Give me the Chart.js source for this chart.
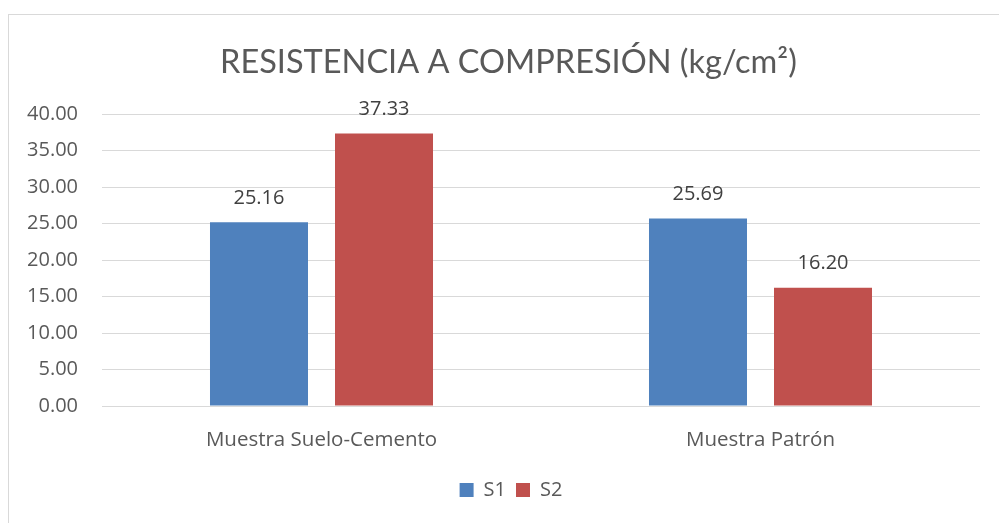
<!DOCTYPE html>
<html>
<head>
<meta charset="utf-8">
<script src="https://cdn.jsdelivr.net/npm/chart.js@4.4.0/dist/chart.umd.min.js"></script>
<style>
html,body{margin:0;padding:0;background:#fff;}
#wrap{position:relative;width:999px;height:523px;overflow:hidden;}
#frame{position:absolute;left:8px;top:14px;width:1100px;height:600px;border:1px solid #d9d9d9;box-sizing:border-box;}
canvas{position:absolute;left:0;top:0;}
</style>
</head>
<body>
<div id="wrap">
<div id="frame"></div>
<canvas id="c" width="999" height="523"></canvas>
</div>
<script>
const categories = ["Muestra Suelo-Cemento", "Muestra Patrón"];
const seriesS1 = [25.16, 25.69];
const seriesS2 = [37.33, 16.20];
const yTicks = [0, 5, 10, 15, 20, 25, 30, 35, 40];
const FONT = "'Open Sans', sans-serif";
const TITLE_FONT = "Lato, 'Open Sans', sans-serif";

const labelPlugin = {
  id: 'barLabels',
  afterLayout(chart) {
    // center title and legend on the chart frame rather than the canvas
    chart.titleBlock.left = 37;
    chart.legend.left = 42;
  },
  afterDatasetsDraw(chart) {
    const ctx = chart.ctx;
    ctx.save();
    ctx.font = "20px " + FONT;
    ctx.fillStyle = "#404040";
    ctx.textAlign = "center";
    ctx.textBaseline = "middle";
    chart.data.datasets.forEach((ds, i) => {
      chart.getDatasetMeta(i).data.forEach((bar, j) => {
        ctx.fillText(ds.data[j].toFixed(2), bar.x, bar.y - 24);
      });
    });
    ctx.restore();
  }
};

new Chart(document.getElementById('c'), {
  type: 'bar',
  data: {
    labels: categories,
    datasets: [
      {label: 'S1', data: seriesS1, backgroundColor: '#4F81BD', categoryPercentage: 0.5695, barPercentage: 0.784},
      {label: 'S2', data: seriesS2, backgroundColor: '#C0504D', categoryPercentage: 0.5695, barPercentage: 0.784}
    ]
  },
  options: {
    responsive: false,
    animation: false,
    layout: {padding: {left: 0, right: 19, top: 0, bottom: 13}},
    plugins: {
      title: {
        display: true,
        text: 'RESISTENCIA A COMPRESIÓN (kg/cm²)',
        color: '#595959',
        font: {family: TITLE_FONT, size: 32.5, weight: 'normal'},
        padding: {top: 43, bottom: 32}
      },
      legend: {
        position: 'bottom',
        labels: {color: '#595959', font: {family: FONT, size: 20}, boxWidth: 14, boxHeight: 14, padding: 10}
      },
      tooltip: {enabled: false}
    },
    scales: {
      x: {
        grid: {display: false},
        border: {display: false},
        ticks: {color: '#595959', font: {family: FONT, size: 20.5}, padding: 14},
        afterFit: s => { s.height = 64; }
      },
      y: {
        min: 0, max: 40,
        afterBuildTicks: s => { s.ticks = yTicks.map(v => ({value: v})); },
        grid: {color: '#d9d9d9', lineWidth: 1, drawTicks: false},
        border: {display: false},
        ticks: {color: '#595959', font: {family: FONT, size: 20}, padding: 24, callback: v => Number(v).toFixed(2)},
        afterFit: s => { s.width = 102; }
      }
    }
  },
  plugins: [labelPlugin]
});
</script>
</body>
</html>
